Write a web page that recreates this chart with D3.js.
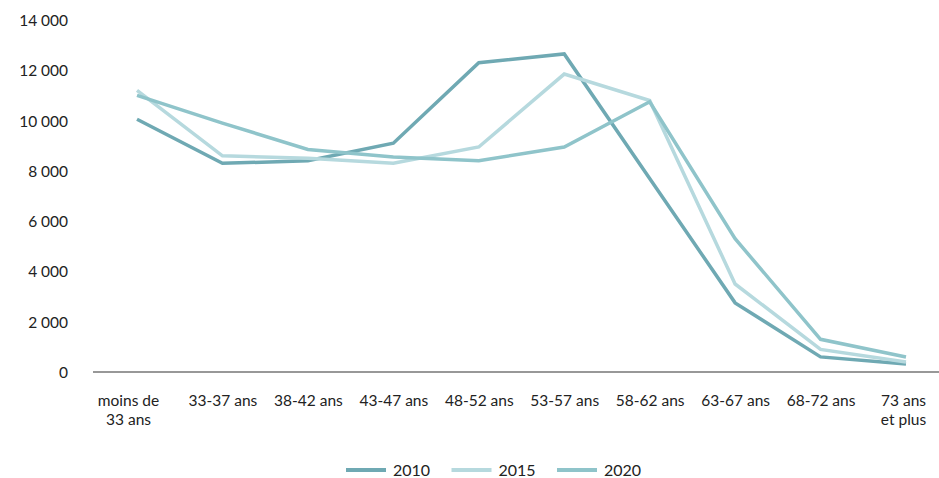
<!DOCTYPE html>
<html>
<head>
<meta charset="utf-8">
<script src="https://cdn.jsdelivr.net/npm/d3@7"></script>
<style>
  html, body { margin: 0; padding: 0; background: #fff; }
  svg { display: block; }
  .tick text { font-family: Lato, "Open Sans", sans-serif; fill: #222; }
</style>
</head>
<body>
<svg id="chart" width="939" height="478"></svg>
<script>
// Age groups on the horizontal axis
const categories = ["moins de|33 ans", "33-37 ans", "38-42 ans", "43-47 ans", "48-52 ans",
  "53-57 ans", "58-62 ans", "63-67 ans", "68-72 ans", "73 ans|et plus"];

// Headcount per age group, one array per year
const values2010 = [10050, 8300, 8400, 9100, 12300, 12650, 7700, 2750, 600, 320];
const values2015 = [11200, 8600, 8500, 8300, 8950, 11850, 10800, 3500, 900, 400];
const values2020 = [11000, 9900, 8850, 8550, 8400, 8950, 10750, 5300, 1300, 600];

const seriesNames = ["2010", "2015", "2020"];
const seriesColors = ["#6fa9b3", "#b6d9de", "#8fc4ca"];
const yTicks = [0, 2000, 4000, 6000, 8000, 10000, 12000, 14000];

const series = [values2010, values2015, values2020].map((v, i) => ({
  name: seriesNames[i], color: seriesColors[i], values: v
}));

const svg = d3.select("#chart");

const x = d3.scalePoint().domain(categories).range([137, 906]);
const y = d3.scaleLinear().domain([0, 14000]).range([372, 20]);

const fmt = d => d3.format(",")(d).replace(/,/g, "\u202F");

// Y axis: labels only, no line
const yAxis = svg.append("g")
  .attr("transform", "translate(68,0)")
  .call(d3.axisLeft(y).tickValues(yTicks).tickSize(0).tickPadding(0).tickFormat(fmt));
yAxis.select(".domain").remove();
yAxis.selectAll("text").attr("font-size", 15.5).attr("dy", "0.35em");

// Baseline
svg.append("line")
  .attr("x1", 93).attr("x2", 939)
  .attr("y1", y(0)).attr("y2", y(0))
  .attr("stroke", "#333").attr("stroke-width", 1.2);

// X axis labels (two lines where needed)
const xAxis = svg.append("g")
  .attr("transform", `translate(0,${y(0)})`)
  .call(d3.axisBottom(x).tickSize(0).tickPadding(0).tickFormat(() => ""));
xAxis.select(".domain").remove();
xAxis.selectAll(".tick text").each(function(d, i) {
  const t = d3.select(this);
  const lines = d.split("|");
  const dx = i === 0 ? -9 : (i === categories.length - 1 ? -3 : 0);
  t.attr("font-size", 15.5).attr("y", 0).attr("dy", null);
  lines.forEach((ln, k) => {
    t.append("tspan").attr("x", dx).attr("y", 34 + k * 19).text(ln);
  });
});

// Lines
const line = d3.line()
  .x((d, i) => x(categories[i]))
  .y(d => y(d));

svg.append("g").selectAll("path")
  .data(series)
  .join("path")
  .attr("d", s => line(s.values))
  .attr("fill", "none")
  .attr("stroke", s => s.color)
  .attr("stroke-width", 3.5)
  .attr("stroke-linejoin", "miter");

// Legend
const legend = svg.append("g").attr("transform", "translate(346,470)");
const legendStep = 105.5;
series.forEach((s, i) => {
  const g = legend.append("g").attr("transform", `translate(${i * legendStep},0)`);
  g.append("line").attr("x1", 0).attr("x2", 40).attr("y1", 0).attr("y2", 0)
    .attr("stroke", s.color).attr("stroke-width", 4);
  g.append("text").attr("x", 47).attr("y", 0).attr("dy", "0.35em")
    .attr("font-family", "Lato, 'Open Sans', sans-serif")
    .attr("font-size", 16).attr("fill", "#222").text(s.name);
});
</script>
</body>
</html>
